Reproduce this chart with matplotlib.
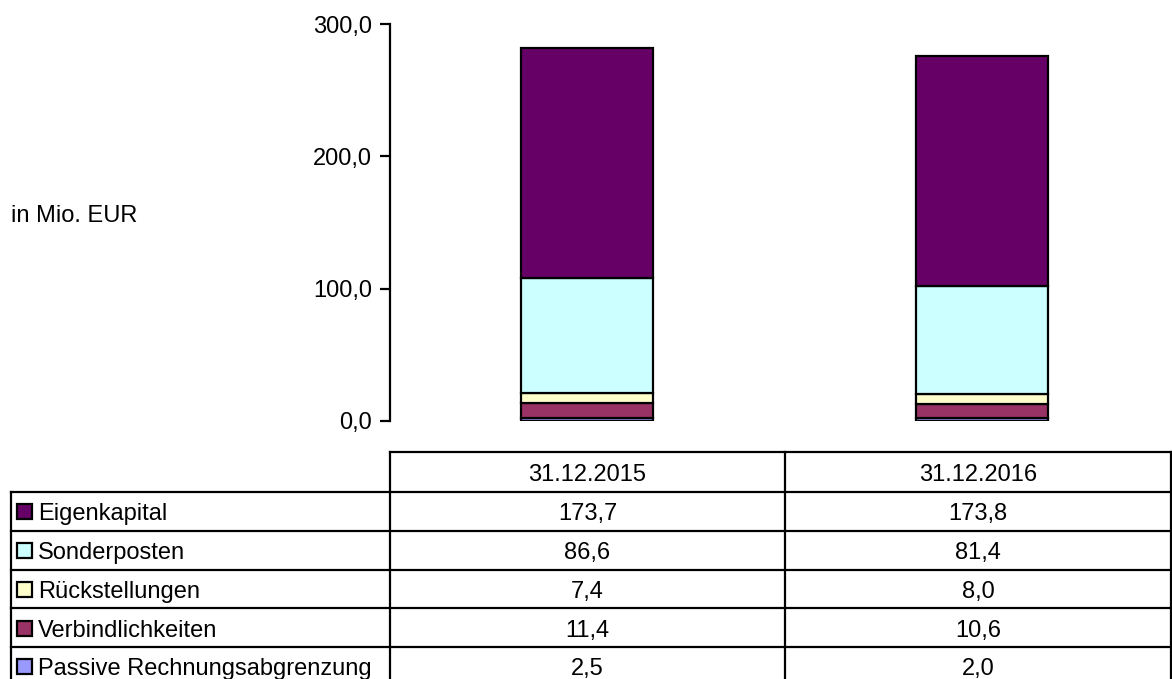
import numpy as np
import matplotlib as mpl

mpl.use('Agg')
import matplotlib.pyplot as plt

plt.rcParams['font.family'] = ['Liberation Sans', 'DejaVu Sans']
plt.rcParams['font.size'] = 17

# Data (in Mio. EUR)
dates = ['31.12.2015', '31.12.2016']
series = ['Eigenkapital', 'Sonderposten', 'Rückstellungen',
          'Verbindlichkeiten', 'Passive Rechnungsabgrenzung']
eigenkapital = [173.7, 173.8]
sonderposten = [86.6, 81.4]
rueckstellungen = [7.4, 8.0]
verbindlichkeiten = [11.4, 10.6]
passive_rap = [2.5, 2.0]
colors = ['#660066', '#CCFFFF', '#FFFFCC', '#993366', '#9999FF']

values = [eigenkapital, sonderposten, rueckstellungen, verbindlichkeiten, passive_rap]


def fmt(v):
    return ('%.1f' % v).replace('.', ',')


W, H = 1172, 679
fig = plt.figure(figsize=(W / 100, H / 100), dpi=100)

# chart area (pixel layout from the reference)
x0, x1, y0, y1 = 390, 1179, 421, 24
ax = fig.add_axes([x0 / W, 1 - y0 / H, (x1 - x0) / W, (y0 - y1) / H])

x = np.arange(len(dates))
bottom = np.zeros(len(dates))
# stack from bottom: Passive RAP, Verbindlichkeiten, Rückstellungen, Sonderposten, Eigenkapital
for vals, col in list(zip(values, colors))[::-1]:
    ax.bar(x, vals, 0.335, bottom=bottom, color=col, edgecolor='black', linewidth=1.6)
    bottom += np.array(vals)

ax.set_xlim(-0.5, 1.5)
ax.set_ylim(0, 300)
ax.set_yticks([0, 100, 200, 300])
ax.set_yticklabels([fmt(v) for v in [0, 100, 200, 300]])
ax.tick_params(axis='y', direction='out', length=7, width=1.6, pad=6, labelsize=17)
ax.set_xticks([])
for s in ['top', 'right', 'bottom']:
    ax.spines[s].set_visible(False)
ax.spines['left'].set_linewidth(1.6)

fig.text(11 / W, 1 - 216 / H, 'in Mio. EUR', ha='left', va='center', fontsize=17)

# data table below chart
tax = fig.add_axes([0, 0, 1, 1])
tax.set_xlim(0, W)
tax.set_ylim(H, 0)
tax.axis('off')

col_x = [11, 390, 785, 1171]
head_top = 452
row_y = [492 + 38.75 * i for i in range(6)]
lw = 1.6
dy = 3  # text sits a little below the cell centre

# header
tax.plot([col_x[1], col_x[3]], [head_top, head_top], color='black', lw=lw)
for cx in col_x[1:]:
    tax.plot([cx, cx], [head_top, row_y[0]], color='black', lw=lw)
for j, d in enumerate(dates):
    tax.text((col_x[j + 1] + col_x[j + 2]) / 2, (head_top + row_y[0]) / 2 + dy, d,
             ha='center', va='center', fontsize=17)

# body
for yy in row_y:
    tax.plot([col_x[0], col_x[3]], [yy, yy], color='black', lw=lw)
for cx in col_x:
    tax.plot([cx, cx], [row_y[0], H + 5], color='black', lw=lw)

for i, (name, vals, col) in enumerate(zip(series, values, colors)):
    cy = (row_y[i] + row_y[i + 1]) / 2
    tax.add_patch(plt.Rectangle((17, cy - 7), 15, 15, facecolor=col,
                                edgecolor='black', lw=1.6))
    tax.text(38, cy + dy, name, ha='left', va='center', fontsize=17)
    for j, v in enumerate(vals):
        tax.text((col_x[j + 1] + col_x[j + 2]) / 2, cy + dy, fmt(v),
                 ha='center', va='center', fontsize=17)

plt.savefig('out.png', dpi=100)
